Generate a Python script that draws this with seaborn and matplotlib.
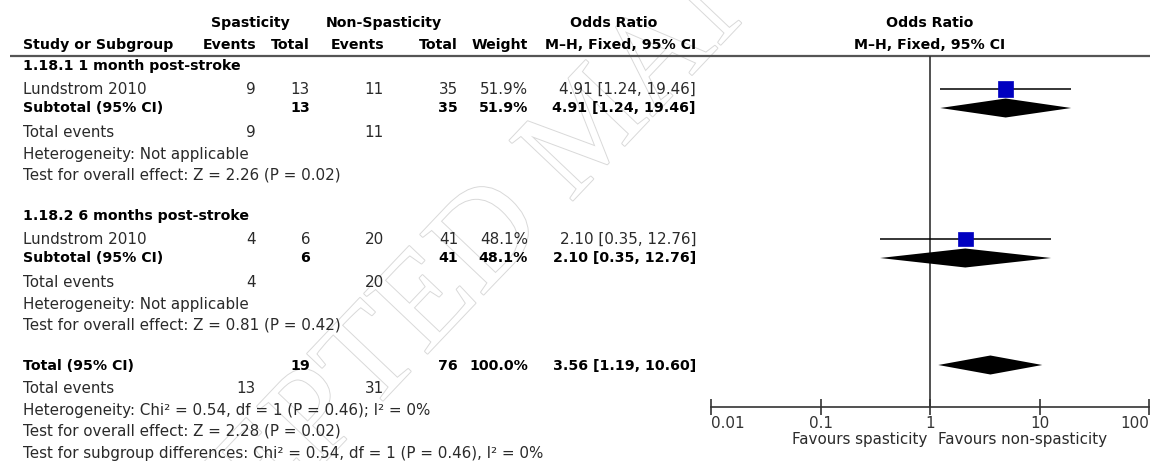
import numpy as np
import pandas as pd
import matplotlib
matplotlib.use("Agg")
import matplotlib.pyplot as plt
import matplotlib.patheffects as pe
from matplotlib.ticker import NullLocator
import seaborn as sns

# ---------------- data ----------------
subgroups = ["1.18.1 1 month post-stroke", "1.18.2 6 months post-stroke"]
studies = ["Lundstrom 2010", "Lundstrom 2010"]
spas_events = [9, 4]
spas_total = [13, 6]
non_events = [11, 20]
non_total = [35, 41]
weights = [51.9, 48.1]
or_est = [4.91, 2.10]
or_lo = [1.24, 0.35]
or_hi = [19.46, 12.76]
sub_z = [2.26, 0.81]
sub_p = [0.02, 0.42]

total_or = [3.56, 1.19, 10.60]
total_spas_events, total_spas_n = 13, 19
total_non_events, total_non_n = 31, 76
overall_chi2, overall_df, overall_p_het, overall_i2 = 0.54, 1, 0.46, 0
overall_z, overall_p = 2.28, 0.02
subgroup_chi2, subgroup_df, subgroup_p, subgroup_i2 = 0.54, 1, 0.46, 0

tick_values = [0.01, 0.1, 1, 10, 100]
tick_labels = ["0.01", "0.1", "1", "10", "100"]
favours_left = "Favours spasticity"
favours_right = "Favours non-spasticity"

# ---------------- style ----------------
sns.set_theme(style="white")
plt.rcParams["font.family"] = ["DejaVu Sans"]
FS_N = 10.9   # regular text
FS_B = 10.2   # bold text
TXT = "#2a2a2a"

W, H = 1150, 461
fig = plt.figure(figsize=(W / 100, H / 100), dpi=100)
bg = fig.add_axes([0, 0, 1, 1])
bg.set_xlim(0, W)
bg.set_ylim(H, 0)
bg.axis("off")

# watermark
bg.text(594, 131, "ACCEPTED MANUSCRIPT", rotation=46.5, rotation_mode="anchor",
        fontsize=96, family="Liberation Serif", ha="center", va="center",
        color="white", zorder=0,
        path_effects=[pe.withStroke(linewidth=1.4, foreground="#d9d9d9")])

# column anchors (pixels)
X_LABEL = 23
X_SE, X_ST, X_NE, X_NT, X_W, X_CI = 256, 310, 384, 458, 528, 696


def t(x, y, s, ha="right", bold=False, **kw):
    bg.text(x, y, s, ha=ha, va="center", fontsize=FS_B if bold else FS_N,
            color="black" if bold else TXT,
            fontweight="bold" if bold else "normal", zorder=3, **kw)


# headers
t(250, 23, "Spasticity", ha="center", bold=True)
t(384, 23, "Non-Spasticity", ha="center", bold=True)
t(614, 23, "Odds Ratio", ha="center", bold=True)
t(930, 23, "Odds Ratio", ha="center", bold=True)
t(X_LABEL, 45, "Study or Subgroup", ha="left", bold=True)
t(X_SE, 45, "Events", bold=True)
t(X_ST, 45, "Total", bold=True)
t(X_NE, 45, "Events", bold=True)
t(X_NT, 45, "Total", bold=True)
t(X_W, 45, "Weight", bold=True)
t(X_CI, 45, "M\u2013H, Fixed, 95% CI", bold=True)
t(930, 45, "M\u2013H, Fixed, 95% CI", ha="center", bold=True)
bg.plot([10, W], [56, 56], color="#555555", lw=1.6, zorder=2, solid_capstyle="butt")

offsets = [0, 23, 42, 66, 88, 109]
study_rows, sub_rows = [], []
for i, sg in enumerate(subgroups):
    y0 = 66 + 150 * i
    ys = [y0 + o for o in offsets]
    study_rows.append(ys[1])
    sub_rows.append(ys[2])
    t(X_LABEL, ys[0], sg, ha="left", bold=True)
    t(X_LABEL, ys[1], studies[i], ha="left")
    t(X_SE, ys[1], f"{spas_events[i]}")
    t(X_ST, ys[1], f"{spas_total[i]}")
    t(X_NE, ys[1], f"{non_events[i]}")
    t(X_NT, ys[1], f"{non_total[i]}")
    t(X_W, ys[1], f"{weights[i]:.1f}%")
    t(X_CI, ys[1], f"{or_est[i]:.2f} [{or_lo[i]:.2f}, {or_hi[i]:.2f}]")
    t(X_LABEL, ys[2], "Subtotal (95% CI)", ha="left", bold=True)
    t(X_ST, ys[2], f"{spas_total[i]}", bold=True)
    t(X_NT, ys[2], f"{non_total[i]}", bold=True)
    t(X_W, ys[2], f"{weights[i]:.1f}%", bold=True)
    t(X_CI, ys[2], f"{or_est[i]:.2f} [{or_lo[i]:.2f}, {or_hi[i]:.2f}]", bold=True)
    t(X_LABEL, ys[3], "Total events", ha="left")
    t(X_SE, ys[3], f"{spas_events[i]}")
    t(X_NE, ys[3], f"{non_events[i]}")
    t(X_LABEL, ys[4], "Heterogeneity: Not applicable", ha="left")
    t(X_LABEL, ys[5], f"Test for overall effect: Z = {sub_z[i]:.2f} (P = {sub_p[i]:.2f})", ha="left")

# overall
YT = 366
t(X_LABEL, YT, "Total (95% CI)", ha="left", bold=True)
t(X_ST, YT, f"{total_spas_n}", bold=True)
t(X_NT, YT, f"{total_non_n}", bold=True)
t(X_W, YT, f"{sum(weights):.1f}%", bold=True)
t(X_CI, YT, f"{total_or[0]:.2f} [{total_or[1]:.2f}, {total_or[2]:.2f}]", bold=True)
t(X_LABEL, 388, "Total events", ha="left")
t(X_SE, 388, f"{total_spas_events}")
t(X_NE, 388, f"{total_non_events}")
t(X_LABEL, 410, f"Heterogeneity: Chi\u00b2 = {overall_chi2:.2f}, df = {overall_df} "
   f"(P = {overall_p_het:.2f}); I\u00b2 = {overall_i2}%", ha="left")
t(X_LABEL, 431, f"Test for overall effect: Z = {overall_z:.2f} (P = {overall_p:.2f})", ha="left")
t(X_LABEL, 453, f"Test for subgroup differences: Chi\u00b2 = {subgroup_chi2:.2f}, df = {subgroup_df} "
   f"(P = {subgroup_p:.2f}), I\u00b2 = {subgroup_i2}%", ha="left")

# ---------------- forest panel ----------------
X0, X1, YTOP, YBOT = 711, 1149, 56, 407
ax = fig.add_axes([X0 / W, (H - YBOT) / H, (X1 - X0) / W, (YBOT - YTOP) / H])
ax.patch.set_alpha(0)
ax.set_xscale("log")
ax.set_xlim(tick_values[0], tick_values[-1])
ax.set_ylim(YBOT, YTOP)

df = pd.DataFrame({"or": or_est, "lo": or_lo, "hi": or_hi, "y": study_rows,
                   "w": weights})
ax.hlines(df["y"], df["lo"], df["hi"], color="black", lw=1.1, zorder=3)
sns.scatterplot(data=df, x="or", y="y", size="w", sizes=(110, 122), marker="s",
                color="#0000c0", edgecolor="#0000c0", linewidth=0.5, legend=False,
                ax=ax, zorder=4, clip_on=False)


def diamond(est, lo, hi, yc, hh=9.5):
    ax.fill([lo, est, hi, est], [yc, yc - hh, yc, yc + hh], color="black", lw=0, zorder=4)


for i in range(len(subgroups)):
    diamond(or_est[i], or_lo[i], or_hi[i], sub_rows[i])
diamond(total_or[0], total_or[1], total_or[2], YT - 1)

ax.axvline(1, color="#333333", lw=1.2, zorder=2)

for s in ["top", "left", "right"]:
    ax.spines[s].set_visible(False)
ax.spines["bottom"].set_color("#333333")
ax.spines["bottom"].set_linewidth(1.2)
ax.set_yticks([])
ax.set_xticks(tick_values)
ax.set_xticklabels(tick_labels)
ax.xaxis.set_minor_locator(NullLocator())
ax.tick_params(axis="x", direction="inout", length=11, width=1.2, colors="#333333",
               labelsize=FS_N, pad=1, bottom=True)
labs = ax.get_xticklabels()
labs[0].set_ha("left")
labs[-1].set_ha("right")
ax.set_xlabel("")
ax.set_ylabel("")

bg.text(927, 439, favours_left, ha="right", va="center", fontsize=FS_N, color=TXT)
bg.text(938, 439, favours_right, ha="left", va="center", fontsize=FS_N, color=TXT)

fig.savefig("out.png", dpi=100)
